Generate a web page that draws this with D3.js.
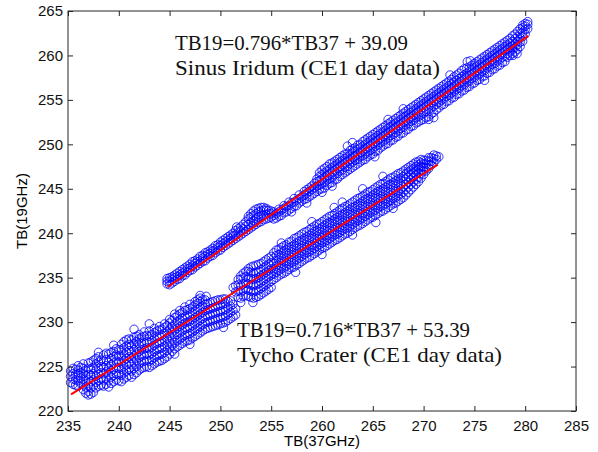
<!DOCTYPE html>
<html>
<head>
<meta charset="utf-8">
<script src="https://cdn.jsdelivr.net/npm/d3@7"></script>
<style>
  body { margin:0; background:#ffffff; }
  svg { display:block; }
</style>
</head>
<body>
<svg id="grafica" width="598" height="452"></svg>
<script>

// ejes
var xTicks = [235,240,245,250,255,260,265,270,275,280,285];
var yTicks = [220,225,230,235,240,245,250,255,260,265];

// Sinus Iridum, columnas [TB37, [TB19...]]
var sinusIridum = [
 [244.75,[234.3,234.6,234.9]],
 [245.00,[234.2,234.6,235.0]],
 [245.25,[234.4,234.8,235.1]],
 [245.50,[234.6,235.0,235.3]],
 [245.75,[234.8,235.1,235.5]],
 [246.00,[234.9,235.3,235.7]],
 [246.25,[235.2,235.5,235.9]],
 [246.50,[235.3,235.7,236.1]],
 [246.75,[235.6,236.0,236.3]],
 [247.00,[235.8,236.1,236.5]],
 [247.25,[235.9,236.3,236.8]],
 [247.50,[236.2,236.6,236.9]],
 [247.75,[236.4,236.8,237.1]],
 [248.00,[236.6,236.9,237.4]],
 [248.25,[236.8,237.2,237.5]],
 [248.50,[236.9,237.4,237.8]],
 [248.75,[237.2,237.6,237.9]],
 [249.00,[237.4,237.7,238.1]],
 [249.25,[237.5,238.0,238.3]],
 [249.50,[237.8,238.1,238.6]],
 [249.75,[238.0,238.4,238.7]],
 [250.00,[238.1,238.6,239.0]],
 [250.25,[238.4,238.8,239.2]],
 [250.50,[238.6,239.0,239.4]],
 [250.75,[238.8,239.2,239.6]],
 [251.00,[239.0,239.4,239.8]],
 [251.25,[239.2,239.7,240.0]],
 [251.50,[239.4,239.8,240.3]],
 [251.75,[239.6,240.1,240.5]],
 [252.00,[239.8,240.3,240.7]],
 [252.25,[240.0,240.5,241.0]],
 [252.50,[240.2,240.8,241.3]],
 [252.75,[240.4,241.0,241.6,241.9]],
 [253.00,[240.6,241.2,241.8,242.2]],
 [253.25,[240.8,241.4,242.0,242.5]],
 [253.50,[241.0,241.6,242.2,242.7]],
 [253.75,[241.2,241.8,242.4,242.8]],
 [254.00,[241.3,241.9,242.5,242.9]],
 [254.25,[241.5,242.0,242.6,242.9]],
 [254.50,[241.6,242.1,242.6,242.8]],
 [254.75,[241.7,242.2,242.6]],
 [255.00,[241.8,242.2,242.5]],
 [255.25,[241.6,242.0,242.4]],
 [255.50,[241.7,242.2]],
 [255.75,[241.9,242.4,242.7]],
 [256.00,[242.0,242.6]],
 [256.25,[242.3,242.8,243.1]],
 [256.50,[242.4,243.0]],
 [256.75,[242.6,243.1,243.5]],
 [257.00,[242.8,243.4]],
 [257.25,[243.0,243.5,243.9]],
 [257.50,[243.1,243.7]],
 [257.75,[243.4,243.9,244.3]],
 [258.00,[243.6,244.1]],
 [258.25,[243.8,244.3,244.7]],
 [258.50,[243.9,244.5,244.9]],
 [258.75,[244.1,244.7,245.1]],
 [259.00,[244.3,244.9,245.3]],
 [259.25,[244.5,245.1,245.6]],
 [259.50,[244.7,245.3,245.8,246.1]],
 [259.75,[244.9,245.4,245.9,246.4,246.8]],
 [260.00,[245.0,245.6,246.1,246.6,247.1]],
 [260.25,[245.1,245.7,246.3,246.8,247.3]],
 [260.50,[245.4,246.0,246.5,247.0,247.5]],
 [260.75,[245.6,246.1,246.7,247.2,247.8]],
 [261.00,[245.7,246.3,246.9,247.4,247.9]],
 [261.25,[246.0,246.6,247.1,247.6,248.1]],
 [261.50,[246.1,246.7,247.3,247.8,248.3]],
 [261.75,[246.4,247.0,247.5,248.0,248.5]],
 [262.00,[246.6,247.1,247.7,248.2,248.7]],
 [262.25,[246.8,247.4,247.9,248.4,248.9]],
 [262.50,[247.0,247.5,248.1,248.6,249.0]],
 [262.75,[247.2,247.8,248.3,248.8,249.3]],
 [263.00,[247.4,248.0,248.5,249.0,249.5]],
 [263.25,[247.6,248.2,248.7,249.2,249.6]],
 [263.50,[247.8,248.3,248.9,249.4,249.9]],
 [263.75,[248.0,248.6,249.1,249.6,250.0]],
 [264.00,[248.2,248.7,249.3,249.8,250.3]],
 [264.25,[248.3,248.9,249.5,250.0,250.5]],
 [264.50,[248.6,249.2,249.7,250.2,250.7]],
 [264.75,[248.8,249.3,249.9,250.4,250.9]],
 [265.00,[248.9,249.5,250.1,250.6,251.1]],
 [265.25,[249.2,249.8,250.3,250.8,251.3]],
 [265.50,[249.3,249.9,250.5,251.0,251.5]],
 [265.75,[249.6,250.2,250.7,251.2,251.7]],
 [266.00,[249.8,250.3,250.9,251.4,251.9]],
 [266.25,[250.0,250.5,251.1,251.6,252.1]],
 [266.50,[250.1,250.7,251.3,251.8,252.3]],
 [266.75,[250.4,251.0,251.5,252.0,252.5]],
 [267.00,[250.5,251.1,251.7,252.2,252.7]],
 [267.25,[250.8,251.3,251.9,252.4,252.9]],
 [267.50,[250.9,251.5,252.1,252.6,253.1]],
 [267.75,[251.2,251.8,252.3,252.8,253.3]],
 [268.00,[251.3,251.9,252.5,253.0,253.5]],
 [268.25,[251.6,252.2,252.7,253.2,253.7]],
 [268.50,[251.7,252.3,252.9,253.4,253.9]],
 [268.75,[252.0,252.6,253.1,253.6,254.1]],
 [269.00,[252.1,252.7,253.3,253.8,254.3]],
 [269.25,[252.4,253.0,253.5,254.0,254.5]],
 [269.50,[252.5,253.1,253.7,254.2,254.7]],
 [269.75,[252.7,253.3,253.9,254.4,254.9]],
 [270.00,[252.8,253.5,254.1,254.6,255.1]],
 [270.25,[253.0,253.7,254.3,254.8,255.3]],
 [270.50,[253.1,253.9,254.5,255.0,255.5]],
 [270.75,[253.4,254.1,254.7,255.2,255.7]],
 [271.00,[253.6,254.3,254.9,255.4,255.9]],
 [271.25,[253.9,254.5,255.1,255.6,256.1]],
 [271.50,[254.1,254.7,255.3,255.8,256.3]],
 [271.75,[254.4,255.0,255.5,256.0,256.5]],
 [272.00,[254.5,255.1,255.7,256.2,256.7]],
 [272.25,[254.8,255.4,255.9,256.4,256.9]],
 [272.50,[254.9,255.5,256.1,256.6,257.1]],
 [272.75,[255.2,255.8,256.3,256.8,257.3]],
 [273.00,[255.3,255.9,256.5,257.0,257.6]],
 [273.25,[255.6,256.2,256.7,257.2,257.8]],
 [273.50,[255.7,256.3,256.9,257.4,258.0]],
 [273.75,[256.0,256.6,257.1,257.6,258.3]],
 [274.00,[256.1,256.7,257.3,257.8,258.5]],
 [274.25,[256.4,257.0,257.5,258.0,258.6]],
 [274.50,[256.5,257.1,257.7,258.2,258.7]],
 [274.75,[256.8,257.4,257.9,258.4,258.9]],
 [275.00,[256.9,257.5,258.1,258.6,259.1]],
 [275.25,[257.2,257.8,258.3,258.8,259.3]],
 [275.50,[257.3,257.9,258.5,259.0,259.5]],
 [275.75,[257.6,258.2,258.7,259.2,259.7]],
 [276.00,[257.7,258.3,258.9,259.4,259.9]],
 [276.25,[258.0,258.6,259.1,259.6,260.1]],
 [276.50,[258.1,258.7,259.3,259.8,260.3]],
 [276.75,[258.4,259.0,259.5,260.0,260.5]],
 [277.00,[258.5,259.1,259.7,260.2,260.7]],
 [277.25,[258.8,259.4,259.9,260.4,260.9]],
 [277.50,[258.9,259.5,260.1,260.6,261.1]],
 [277.75,[259.2,259.8,260.3,260.8,261.3]],
 [278.00,[259.3,259.9,260.5,261.0,261.5]],
 [278.25,[259.8,260.2,260.7,261.2,261.7]],
 [278.50,[260.0,260.4,260.9,261.4,261.9]],
 [278.75,[260.2,260.7,261.1,261.6,262.2]],
 [279.00,[260.4,260.9,261.3,261.9,262.4]],
 [279.25,[260.7,261.2,261.6,262.1,262.7]],
 [279.50,[261.0,261.5,262.0,262.5,263.0]],
 [279.75,[261.6,262.1,262.6,263.1,263.4]],
 [280.00,[262.4,262.9,263.3,263.6]],
 [280.25,[263.0,263.5,263.8]]
];

// puntos sueltos en los bordes de Sinus Iridum
var sinusIridumSueltos = [
 [257.0,242.4],[258.5,243.4],[260.0,244.6],[261.0,245.3],[262.5,249.8],[263.0,250.2],
 [266.5,252.8],[268.0,254.0],[270.5,252.8],[271.0,253.0],[274.3,259.3],[274.6,259.4],
 [276.0,257.2],[278.8,260.0],[279.2,260.2],[265.2,248.6],[272.6,257.8],[251.6,240.7]
];

// Tycho Crater
var tychoCrater = [
 [235.25,[223.2,223.9,224.5]],
 [235.50,[223.0,223.6,224.2,224.8]],
 [235.75,[222.9,223.5,224.1,224.7]],
 [236.00,[222.8,223.4,224.0,224.6,225.1]],
 [236.25,[223.1,223.7,224.3,224.9]],
 [236.50,[222.4,223.0,223.6,224.2,224.8,225.3]],
 [236.75,[222.0,222.7,223.4,224.0,224.6]],
 [237.00,[222.2,222.9,223.5,224.1,224.8,225.4]],
 [237.25,[221.9,222.6,223.3,224.0,224.7,225.5]],
 [237.50,[222.1,222.8,223.5,224.2,224.9,225.7]],
 [237.75,[222.6,223.2,223.9,224.6,225.3,225.9]],
 [238.00,[222.8,223.4,224.1,224.8,225.5,226.1]],
 [238.25,[222.9,223.6,224.3,225.0,225.7]],
 [238.50,[222.8,223.5,224.2,224.9,225.6,226.3]],
 [238.75,[223.0,223.7,224.4,225.1,225.8,226.5]],
 [239.00,[222.7,223.4,224.1,224.8,225.5,226.4]],
 [239.25,[223.1,223.8,224.5,225.2,225.9,226.6]],
 [239.50,[223.3,224.0,224.7,225.4,226.1,226.7]],
 [239.75,[223.5,224.2,224.9,225.6,226.3,227.0]],
 [240.00,[223.4,224.1,224.8,225.5,226.2,226.9]],
 [240.25,[223.3,224.0,224.7,225.4,226.1,226.8,227.5]],
 [240.50,[223.6,224.3,225.0,225.7,226.4,227.1,227.8]],
 [240.75,[223.8,224.5,225.2,225.9,226.6,227.3,228.0]],
 [241.00,[224.0,224.7,225.4,226.1,226.8,227.5,228.1]],
 [241.25,[223.8,224.5,225.2,225.9,226.6,227.3,228.0]],
 [241.50,[224.1,224.8,225.5,226.2,226.9,227.6,228.3]],
 [241.75,[224.3,225.0,225.7,226.4,227.1,227.8,228.4]],
 [242.00,[224.6,225.3,226.0,226.7,227.4,228.1,228.6]],
 [242.25,[224.8,225.5,226.2,226.9,227.6,228.3]],
 [242.50,[224.9,225.6,226.3,227.0,227.7,228.4,228.9]],
 [242.75,[225.0,225.7,226.4,227.1,227.8,228.5]],
 [243.00,[224.9,225.6,226.3,227.0,227.7,228.4,229.0]],
 [243.25,[225.1,225.8,226.5,227.2,227.9,228.6]],
 [243.50,[225.3,226.0,226.7,227.4,228.1,228.8,229.3]],
 [243.75,[225.5,226.2,226.9,227.6,228.3,229.0]],
 [244.00,[225.6,226.3,227.0,227.7,228.4,229.1,229.5]],
 [244.25,[225.7,226.4,227.1,227.8,228.5,229.2]],
 [244.50,[225.9,226.6,227.3,228.0,228.7,229.4,229.8]],
 [244.75,[226.1,226.8,227.5,228.2,228.9,229.6]],
 [245.00,[226.4,227.1,227.8,228.5,229.2,229.9,230.3]],
 [245.25,[226.7,227.4,228.1,228.8,229.5,230.2]],
 [245.50,[227.0,227.7,228.4,229.1,229.8,230.5,230.9]],
 [245.75,[227.2,227.9,228.6,229.3,230.0,230.7]],
 [246.00,[227.4,228.1,228.8,229.5,230.2,230.9,231.3]],
 [246.25,[227.6,228.3,229.0,229.7,230.4,231.1]],
 [246.50,[227.8,228.5,229.2,229.9,230.6,231.3,231.7]],
 [246.75,[227.9,228.6,229.3,230.0,230.7,231.4]],
 [247.00,[228.0,228.7,229.4,230.1,230.8,231.5,232.0]],
 [247.25,[228.2,228.9,229.6,230.3,231.0,231.7]],
 [247.50,[228.4,229.1,229.8,230.5,231.2,231.9,232.3]],
 [247.75,[228.6,229.3,230.0,230.7,231.4,232.1,232.5]],
 [248.00,[228.8,229.5,230.2,230.9,231.6,232.3,232.7]],
 [248.25,[229.0,229.7,230.4,231.1,231.8,232.5]],
 [248.50,[229.2,229.9,230.6,231.3,232.0,232.5]],
 [248.75,[229.3,230.0,230.7,231.4,232.1]],
 [249.00,[229.4,230.1,230.8,231.5,232.2]],
 [249.25,[229.5,230.2,230.9,231.6,232.3]],
 [249.50,[229.6,230.3,231.0,231.7,232.4]],
 [249.75,[229.7,230.4,231.1,231.8,232.5]],
 [250.00,[229.8,230.5,231.2,231.9,232.5]],
 [250.25,[229.9,230.6,231.3,232.0,232.6]],
 [250.50,[230.0,230.7,231.4,232.1,232.6]],
 [250.75,[230.2,230.9,231.6,232.3]],
 [251.00,[230.4,231.1,231.8,232.4]],
 [251.25,[230.6,231.3,232.0,233.9]],
 [251.50,[230.8,231.5,233.4,234.1]],
 [251.75,[232.8,233.5,234.2,234.8]],
 [252.00,[232.7,233.4,234.1,234.8,235.2]],
 [252.25,[232.9,233.6,234.3,235.0,235.5]],
 [252.50,[233.0,233.7,234.4,235.1,235.7]],
 [252.75,[232.9,233.6,234.3,235.0,235.7,236.0]],
 [253.00,[232.8,233.5,234.2,234.9,235.6,236.2]],
 [253.25,[232.7,233.4,234.1,234.8,235.5,236.3]],
 [253.50,[232.8,233.5,234.2,234.9,235.6,236.4]],
 [253.75,[232.9,233.6,234.3,235.0,235.7,236.5]],
 [254.00,[233.1,233.8,234.5,235.2,235.9,236.6]],
 [254.25,[233.3,234.0,234.7,235.4,236.1,236.8]],
 [254.50,[233.5,234.2,234.9,235.6,236.3,237.0]],
 [254.75,[233.7,234.4,235.1,235.8,236.5,237.2]],
 [255.00,[233.9,234.6,235.3,236.0,236.7,237.4]],
 [255.25,[234.8,235.4,236.0,236.6,237.2,237.8]],
 [255.50,[235.0,235.6,236.3,236.9,237.5,238.1]],
 [255.75,[235.2,235.8,236.4,237.0,237.6,238.2]],
 [256.00,[235.4,236.0,236.6,237.2,237.8,238.4]],
 [256.25,[235.5,236.1,236.8,237.4,238.0,238.6]],
 [256.50,[235.7,236.3,236.9,237.5,238.1,238.7]],
 [256.75,[235.9,236.5,237.1,237.7,238.4,239.0]],
 [257.00,[236.1,236.7,237.3,237.9,238.5,239.1]],
 [257.25,[236.2,236.8,237.5,238.1,238.7,239.4]],
 [257.50,[236.4,237.0,237.7,238.3,238.9,239.5]],
 [257.75,[236.6,237.2,237.8,238.4,239.1,239.7]],
 [258.00,[236.8,237.4,238.0,238.6,239.2,239.9]],
 [258.25,[237.0,237.6,238.2,238.8,239.4,240.1]],
 [258.50,[237.2,237.8,238.4,239.0,239.6,240.2]],
 [258.75,[237.3,237.9,238.6,239.2,239.8,240.4]],
 [259.00,[237.5,238.1,238.7,239.4,240.0,240.6]],
 [259.25,[237.7,238.3,238.9,239.5,240.2,240.8]],
 [259.50,[237.9,238.5,239.1,239.7,240.3,241.0]],
 [259.75,[238.1,238.7,239.3,239.9,240.5,241.1]],
 [260.00,[238.3,238.9,239.5,240.1,240.7,241.3]],
 [260.25,[238.4,239.0,239.7,240.3,240.9,241.5]],
 [260.50,[238.6,239.2,239.8,240.4,241.1,241.7]],
 [260.75,[238.8,239.4,240.0,240.6,241.2,241.9]],
 [261.00,[239.0,239.6,240.2,240.8,241.4,242.0]],
 [261.25,[239.2,239.8,240.4,241.0,241.6,242.2]],
 [261.50,[239.3,239.9,240.6,241.2,241.8,242.4]],
 [261.75,[239.5,240.1,240.7,241.4,242.0,242.6]],
 [262.00,[239.7,240.3,240.9,241.5,242.1,242.8]],
 [262.25,[239.9,240.5,241.1,241.7,242.3,243.0]],
 [262.50,[240.0,240.6,241.3,241.9,242.5,243.1]],
 [262.75,[240.2,240.8,241.4,242.1,242.7,243.3]],
 [263.00,[240.4,241.0,241.6,242.2,242.9,243.5]],
 [263.25,[240.6,241.2,241.8,242.4,243.0,243.7]],
 [263.50,[240.8,241.4,242.0,242.6,243.2,243.9]],
 [263.75,[240.9,241.5,242.2,242.8,243.4,244.0]],
 [264.00,[241.1,241.7,242.3,243.0,243.6,244.2]],
 [264.25,[241.3,241.9,242.5,243.1,243.8,244.4]],
 [264.50,[241.5,242.1,242.7,243.3,243.9,244.6]],
 [264.75,[241.7,242.3,242.9,243.5,244.1,244.7]],
 [265.00,[241.8,242.4,243.1,243.7,244.3,244.9]],
 [265.25,[242.0,242.6,243.2,243.9,244.5,245.1]],
 [265.50,[242.2,242.8,243.4,244.0,244.7,245.3]],
 [265.75,[242.4,243.0,243.6,244.2,244.8,245.5]],
 [266.00,[242.5,243.1,243.8,244.4,245.0,245.6]],
 [266.25,[242.7,243.3,243.9,244.6,245.2,245.8]],
 [266.50,[242.9,243.5,244.1,244.7,245.4,246.0]],
 [266.75,[243.1,243.7,244.3,244.9,245.5,246.2]],
 [267.00,[243.3,243.9,244.5,245.1,245.7,246.3]],
 [267.25,[243.4,244.0,244.7,245.3,245.9,246.5]],
 [267.50,[243.6,244.2,244.8,245.5,246.1,246.7]],
 [267.75,[243.8,244.4,245.0,245.6,246.2,246.8]],
 [268.00,[244.0,244.6,245.2,245.8,246.4,247.0]],
 [268.25,[244.3,244.9,245.5,246.1,246.7,247.2]],
 [268.50,[244.6,245.2,245.7,246.3,246.9,247.4]],
 [268.75,[244.9,245.5,246.0,246.6,247.1,247.6]],
 [269.00,[245.2,245.8,246.3,246.8,247.3,247.8]],
 [269.25,[245.5,246.0,246.6,247.0,247.5,248.0]],
 [269.50,[245.8,246.3,246.8,247.3,247.7,248.1]],
 [269.75,[246.2,246.7,247.1,247.5,247.9,248.3]],
 [270.00,[246.6,247.0,247.4,247.8,248.2]],
 [270.25,[247.0,247.4,247.8,248.2]],
 [270.50,[247.3,247.7,248.1,248.5]],
 [270.75,[247.7,248.1,248.5]],
 [271.00,[248.0,248.4,248.8]],
 [271.25,[248.3,248.7]],
 [271.50,[248.6]]
];

// puntos sueltos en los bordes de Tycho
var tychoSueltos = [
 [237.0,221.8],[238.0,226.6],[239.5,227.4],[241.5,229.2],[243.0,229.8],[245.5,226.4],
 [247.0,227.5],[248.0,233.0],[248.6,232.9],[250.3,229.4],[252.0,232.2],[253.2,232.2],
 [256.0,238.9],[259.0,241.3],[260.0,237.6],[262.0,243.5],[263.0,239.8],[264.0,245.0],
 [266.0,246.4],[267.0,242.8],[257.4,235.6],[261.2,242.9],[265.3,241.2]
];

// ajustes lineales: pendiente, ordenada, rango de TB37
var ajustePendiente = [0.796, 0.716];
var ajusteOrdenada = [39.09, 53.39];
var ajusteX0 = [244.8, 235.3];
var ajusteX1 = [280.3, 271.4];

var etiquetasTexto = [
  ["TB19=0.796*TB37 + 39.09","Sinus Iridum (CE1 day data)"],
  ["TB19=0.716*TB37 + 53.39","Tycho Crater (CE1 day data)"]
];


var svg = d3.select("#grafica");

var izq = 68, der = 576, arriba = 11, abajo = 411;

var x = d3.scaleLinear().domain([235,285]).range([izq,der]);
var y = d3.scaleLinear().domain([220,265]).range([abajo,arriba]);


function aplana(columnas){
	var puntos = [];
	columnas.forEach(function(c){
		c[1].forEach(function(v){ puntos.push([c[0],v]); });
	});
	return puntos;
}

var puntos = aplana(sinusIridum).concat(sinusIridumSueltos)
	.concat(aplana(tychoCrater)).concat(tychoSueltos);

svg.append("g").selectAll("circle")
	.data(puntos)
	.enter().append("circle")
	.attr("cx",function(d){ return x(d[0]); })
	.attr("cy",function(d){ return y(d[1]); })
	.attr("r",4.2)
	.style("fill","none")
	.style("stroke","#0000ff")
	.style("stroke-width",0.8);

// lineas rojas
svg.append("g").selectAll("line")
	.data(ajustePendiente)
	.enter().append("line")
	.attr("x1",function(d,i){ return x(ajusteX0[i]); })
	.attr("x2",function(d,i){ return x(ajusteX1[i]); })
	.attr("y1",function(d,i){ return y(d*ajusteX0[i]+ajusteOrdenada[i]); })
	.attr("y2",function(d,i){ return y(d*ajusteX1[i]+ajusteOrdenada[i]); })
	.style("stroke","#ff0000")
	.style("stroke-width",2);


// ejes con ticks hacia dentro
var colorEje = "#262626";

var ejeX = svg.append("g").attr("transform","translate(0,"+abajo+")")
	.call(d3.axisBottom(x).tickValues(xTicks).tickSizeInner(-5).tickSizeOuter(0).tickPadding(9));
var ejeXarriba = svg.append("g").attr("transform","translate(0,"+arriba+")")
	.call(d3.axisTop(x).tickValues(xTicks).tickSizeInner(-5).tickSizeOuter(0).tickFormat(""));
var ejeY = svg.append("g").attr("transform","translate("+izq+",0)")
	.call(d3.axisLeft(y).tickValues(yTicks).tickSizeInner(-5).tickSizeOuter(0).tickPadding(5));
var ejeYder = svg.append("g").attr("transform","translate("+der+",0)")
	.call(d3.axisRight(y).tickValues(yTicks).tickSizeInner(-5).tickSizeOuter(0).tickFormat(""));

[ejeX,ejeXarriba,ejeY,ejeYder].forEach(function(e){
	e.select(".domain").remove();
	e.selectAll("line").style("stroke",colorEje);
	e.selectAll("text")
		.style("font-family","Liberation Sans, Arial, sans-serif")
		.style("font-size","15px")
		.style("fill","#111");
});

svg.append("rect")
	.attr("x",izq).attr("y",arriba)
	.attr("width",der-izq).attr("height",abajo-arriba)
	.style("fill","none")
	.style("stroke",colorEje)
	.style("stroke-width",1);

// titulos de ejes
svg.append("text")
	.attr("x",(izq+der)/2).attr("y",446)
	.attr("text-anchor","middle")
	.style("font-family","Liberation Sans, Arial, sans-serif")
	.style("font-size","15px")
	.text("TB(37GHz)");

svg.append("text")
	.attr("transform","translate(27,"+((arriba+abajo)/2)+") rotate(-90)")
	.attr("text-anchor","middle")
	.style("font-family","Liberation Sans, Arial, sans-serif")
	.style("font-size","15px")
	.text("TB(19GHz)");

// anotaciones (ancho medido en la figura)
var posTexto = [[175,50],[237,337]];
var anchoTexto = [233,265];

etiquetasTexto.forEach(function(lineas,i){
	lineas.forEach(function(t,j){
		svg.append("text")
			.attr("x",posTexto[i][0])
			.attr("y",posTexto[i][1]+j*24.5)
			.attr("textLength",anchoTexto[j])
			.attr("lengthAdjust","spacingAndGlyphs")
			.style("font-family","Liberation Serif, serif")
			.style("font-size","21px")
			.style("fill","#111")
			.text(t);
	});
});

</script>
</body>
</html>
